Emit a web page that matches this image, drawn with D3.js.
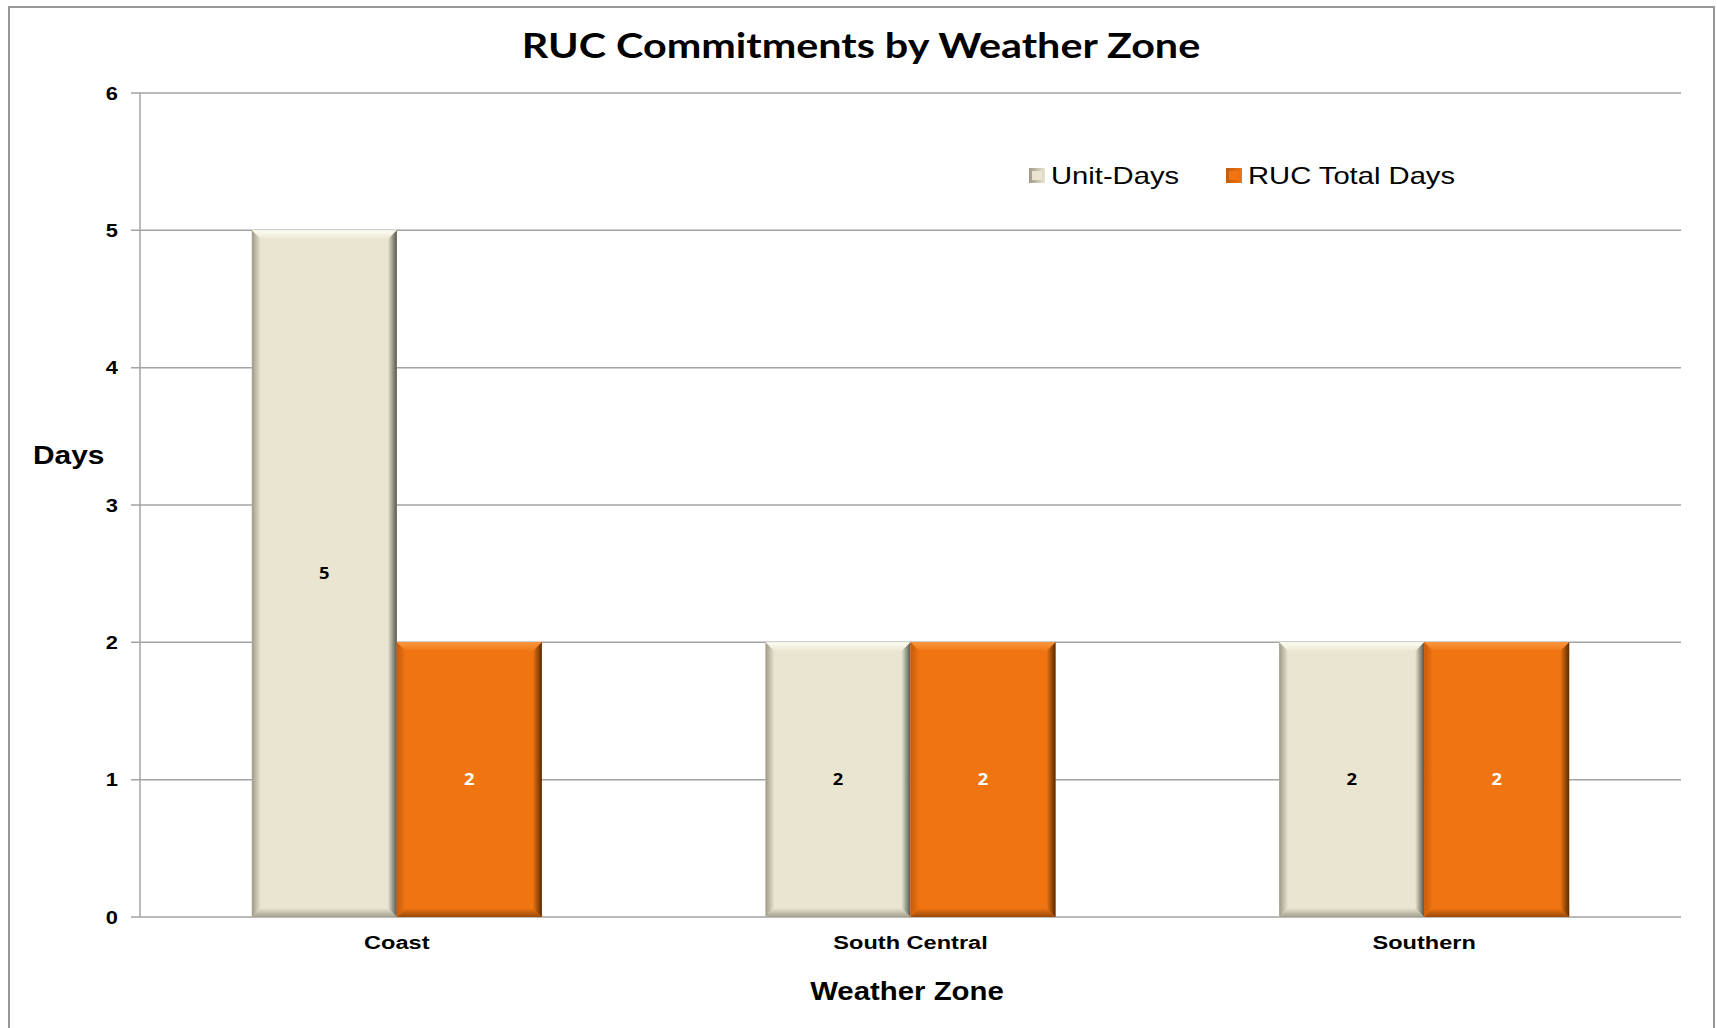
<!DOCTYPE html>
<html>
<head>
<meta charset="utf-8">
<script src="https://cdn.jsdelivr.net/npm/d3@7"></script>
<style>
  body { margin: 0; background: #fff; }
  svg { display: block; }
  .tick text { font-family: "Liberation Sans", Arial, sans-serif; font-weight: bold; }
</style>
</head>
<body>
<svg width="1717" height="1028"></svg>
<script>
var svg = d3.select('svg');

// chart data
var categories = ['Coast', 'South Central', 'Southern'];
var seriesNames = ['Unit-Days', 'RUC Total Days'];
var unitDays = [5, 2, 2];
var rucTotalDays = [2, 2, 2];
var yTicks = [0, 1, 2, 3, 4, 5, 6];

var plot = {l: 140, r: 1681, t: 93, b: 917};

// series styles: base fill, bevel sides
var styles = [
    {fill: '#e9e5d0', top: '#fffef4', left: '#9c9a88', right: '#55554a', bottom: '#a29f8c', label: '#000'},
    {fill: '#f07512', top: '#f9993e', left: '#c75b08', right: '#5a2a02', bottom: '#9a4a08', label: '#fff'}
];

// the source text is stretched a bit wider than normal
function stretch(sel, sx) {
    sel.attr('transform', function() {
        var x = +d3.select(this).attr('x') || 0;
        return 'translate(' + (x * (1 - sx)) + ',0) scale(' + sx + ',1)';
    });
}

// outer frame
svg.append('rect')
    .attr('x', 9).attr('y', 7)
    .attr('width', 1705).attr('height', 1040)
    .attr('fill', 'none')
    .attr('stroke', '#979797')
    .attr('stroke-width', 2);

var x0 = d3.scaleBand().domain(categories).range([plot.l, plot.r]).paddingInner(0).paddingOuter(0);
var barW = 145;
var x1 = d3.scaleBand().domain(seriesNames).range([0, barW * 2]);
var y = d3.scaleLinear().domain([0, 6]).range([plot.b, plot.t]);

// gridlines
svg.append('g').selectAll('line')
    .data(yTicks)
    .enter().append('line')
    .attr('x1', plot.l - 9).attr('x2', plot.r)
    .attr('y1', d => y(d)).attr('y2', d => y(d))
    .attr('stroke', '#a3a3a3')
    .attr('stroke-width', 1.5);

// y axis line
svg.append('line')
    .attr('x1', plot.l).attr('x2', plot.l)
    .attr('y1', plot.t).attr('y2', plot.b)
    .attr('stroke', '#a3a3a3').attr('stroke-width', 1.5);

var yAxis = svg.append('g')
    .attr('transform', 'translate(' + plot.l + ',0)')
    .call(d3.axisLeft(y).tickValues(yTicks).tickFormat(d3.format('d')).tickSize(0).tickPadding(22));
yAxis.select('.domain').remove();
yAxis.selectAll('text').attr('font-size', 19).attr('fill', '#000').call(stretch, 1.15);

var xAxis = svg.append('g')
    .attr('transform', 'translate(0,' + plot.b + ')')
    .call(d3.axisBottom(x0).tickSize(0).tickPadding(19));
xAxis.select('.domain').remove();
xAxis.selectAll('text').attr('font-size', 19).attr('fill', '#000').attr('dy', '0.71em').call(stretch, 1.24);

// gradients for bevels
var defs = svg.append('defs');
function grad(id, c1, c2, x2, y2) {
    var g = defs.append('linearGradient').attr('id', id)
        .attr('x1', 0).attr('y1', 0).attr('x2', x2).attr('y2', y2);
    g.append('stop').attr('offset', '0%').attr('stop-color', c1);
    g.append('stop').attr('offset', '100%').attr('stop-color', c2);
}
styles.forEach(function(s, i) {
    grad('l' + i, s.left, s.fill, 1, 0);
    grad('r' + i, s.fill, s.right, 1, 0);
    grad('t' + i, s.top, s.fill, 0, 1);
    grad('b' + i, s.fill, s.bottom, 0, 1);
});

var rows = categories.map(function(c, i) {
    return [
        {cat: c, s: 0, name: seriesNames[0], v: unitDays[i]},
        {cat: c, s: 1, name: seriesNames[1], v: rucTotalDays[i]}
    ];
});

var bv = 9;
var groups = svg.append('g').selectAll('g')
    .data(rows)
    .enter().append('g')
    .attr('transform', d => 'translate(' + (x0(d[0].cat) + (x0.bandwidth() - barW * 2) / 2) + ',0)');

groups.selectAll('g.bar')
    .data(d => d)
    .enter().append('g')
    .attr('class', 'bar')
    .each(function(d) {
        var g = d3.select(this);
        var x = x1(d.name), w = x1.bandwidth();
        var top = y(d.v), bot = y(0);
        var s = styles[d.s];
        g.append('rect').attr('x', x).attr('y', top).attr('width', w).attr('height', bot - top).attr('fill', s.fill);
        // bevel sides
        g.append('polygon').attr('fill', 'url(#t' + d.s + ')')
            .attr('points', [[x, top], [x + w, top], [x + w - bv, top + bv], [x + bv, top + bv]].join(' '));
        g.append('polygon').attr('fill', 'url(#b' + d.s + ')')
            .attr('points', [[x, bot], [x + w, bot], [x + w - bv, bot - bv], [x + bv, bot - bv]].join(' '));
        g.append('polygon').attr('fill', 'url(#l' + d.s + ')')
            .attr('points', [[x, top], [x + bv, top + bv], [x + bv, bot - bv], [x, bot]].join(' '));
        g.append('polygon').attr('fill', 'url(#r' + d.s + ')')
            .attr('points', [[x + w, top], [x + w - bv, top + bv], [x + w - bv, bot - bv], [x + w, bot]].join(' '));
        g.append('text')
            .attr('x', x + w / 2)
            .attr('y', (top + bot) / 2)
            .attr('dy', '0.35em')
            .attr('text-anchor', 'middle')
            .attr('font-family', '"Open Sans", sans-serif')
            .attr('font-weight', 'bold')
            .attr('font-size', 16)
            .attr('fill', s.label)
            .text(d.v)
            .call(stretch, 1.15);
    });

// title
svg.append('text')
    .attr('x', 861).attr('y', 58)
    .attr('text-anchor', 'middle')
    .attr('font-family', 'Lato, "Open Sans", sans-serif')
    .attr('font-weight', 'bold')
    .attr('font-size', 35)
    .attr('fill', '#000')
    .text('RUC Commitments by Weather Zone')
    .call(stretch, 1.18);

// axis titles
svg.append('text')
    .attr('x', 33).attr('y', 464)
    .attr('font-family', '"Liberation Sans", Arial, sans-serif')
    .attr('font-weight', 'bold')
    .attr('font-size', 26)
    .text('Days')
    .call(stretch, 1.15);

svg.append('text')
    .attr('x', 907).attr('y', 1000)
    .attr('text-anchor', 'middle')
    .attr('font-family', '"Liberation Sans", Arial, sans-serif')
    .attr('font-weight', 'bold')
    .attr('font-size', 26)
    .text('Weather Zone')
    .call(stretch, 1.13);

// legend
var legendX = [1029, 1226];
var legend = svg.append('g').selectAll('g')
    .data(seriesNames)
    .enter().append('g')
    .attr('transform', (d, i) => 'translate(' + legendX[i] + ',168)');
legend.append('rect')
    .attr('width', 16).attr('height', 15)
    .attr('fill', (d, i) => 'url(#l' + i + ')');
legend.append('rect')
    .attr('x', 3).attr('y', 3)
    .attr('width', 10).attr('height', 9)
    .attr('fill', (d, i) => styles[i].fill);
legend.append('text')
    .attr('x', 22).attr('y', 16)
    .attr('font-family', '"Liberation Sans", Arial, sans-serif')
    .attr('font-size', 23)
    .text(d => d)
    .call(stretch, 1.27);
</script>
</body>
</html>
